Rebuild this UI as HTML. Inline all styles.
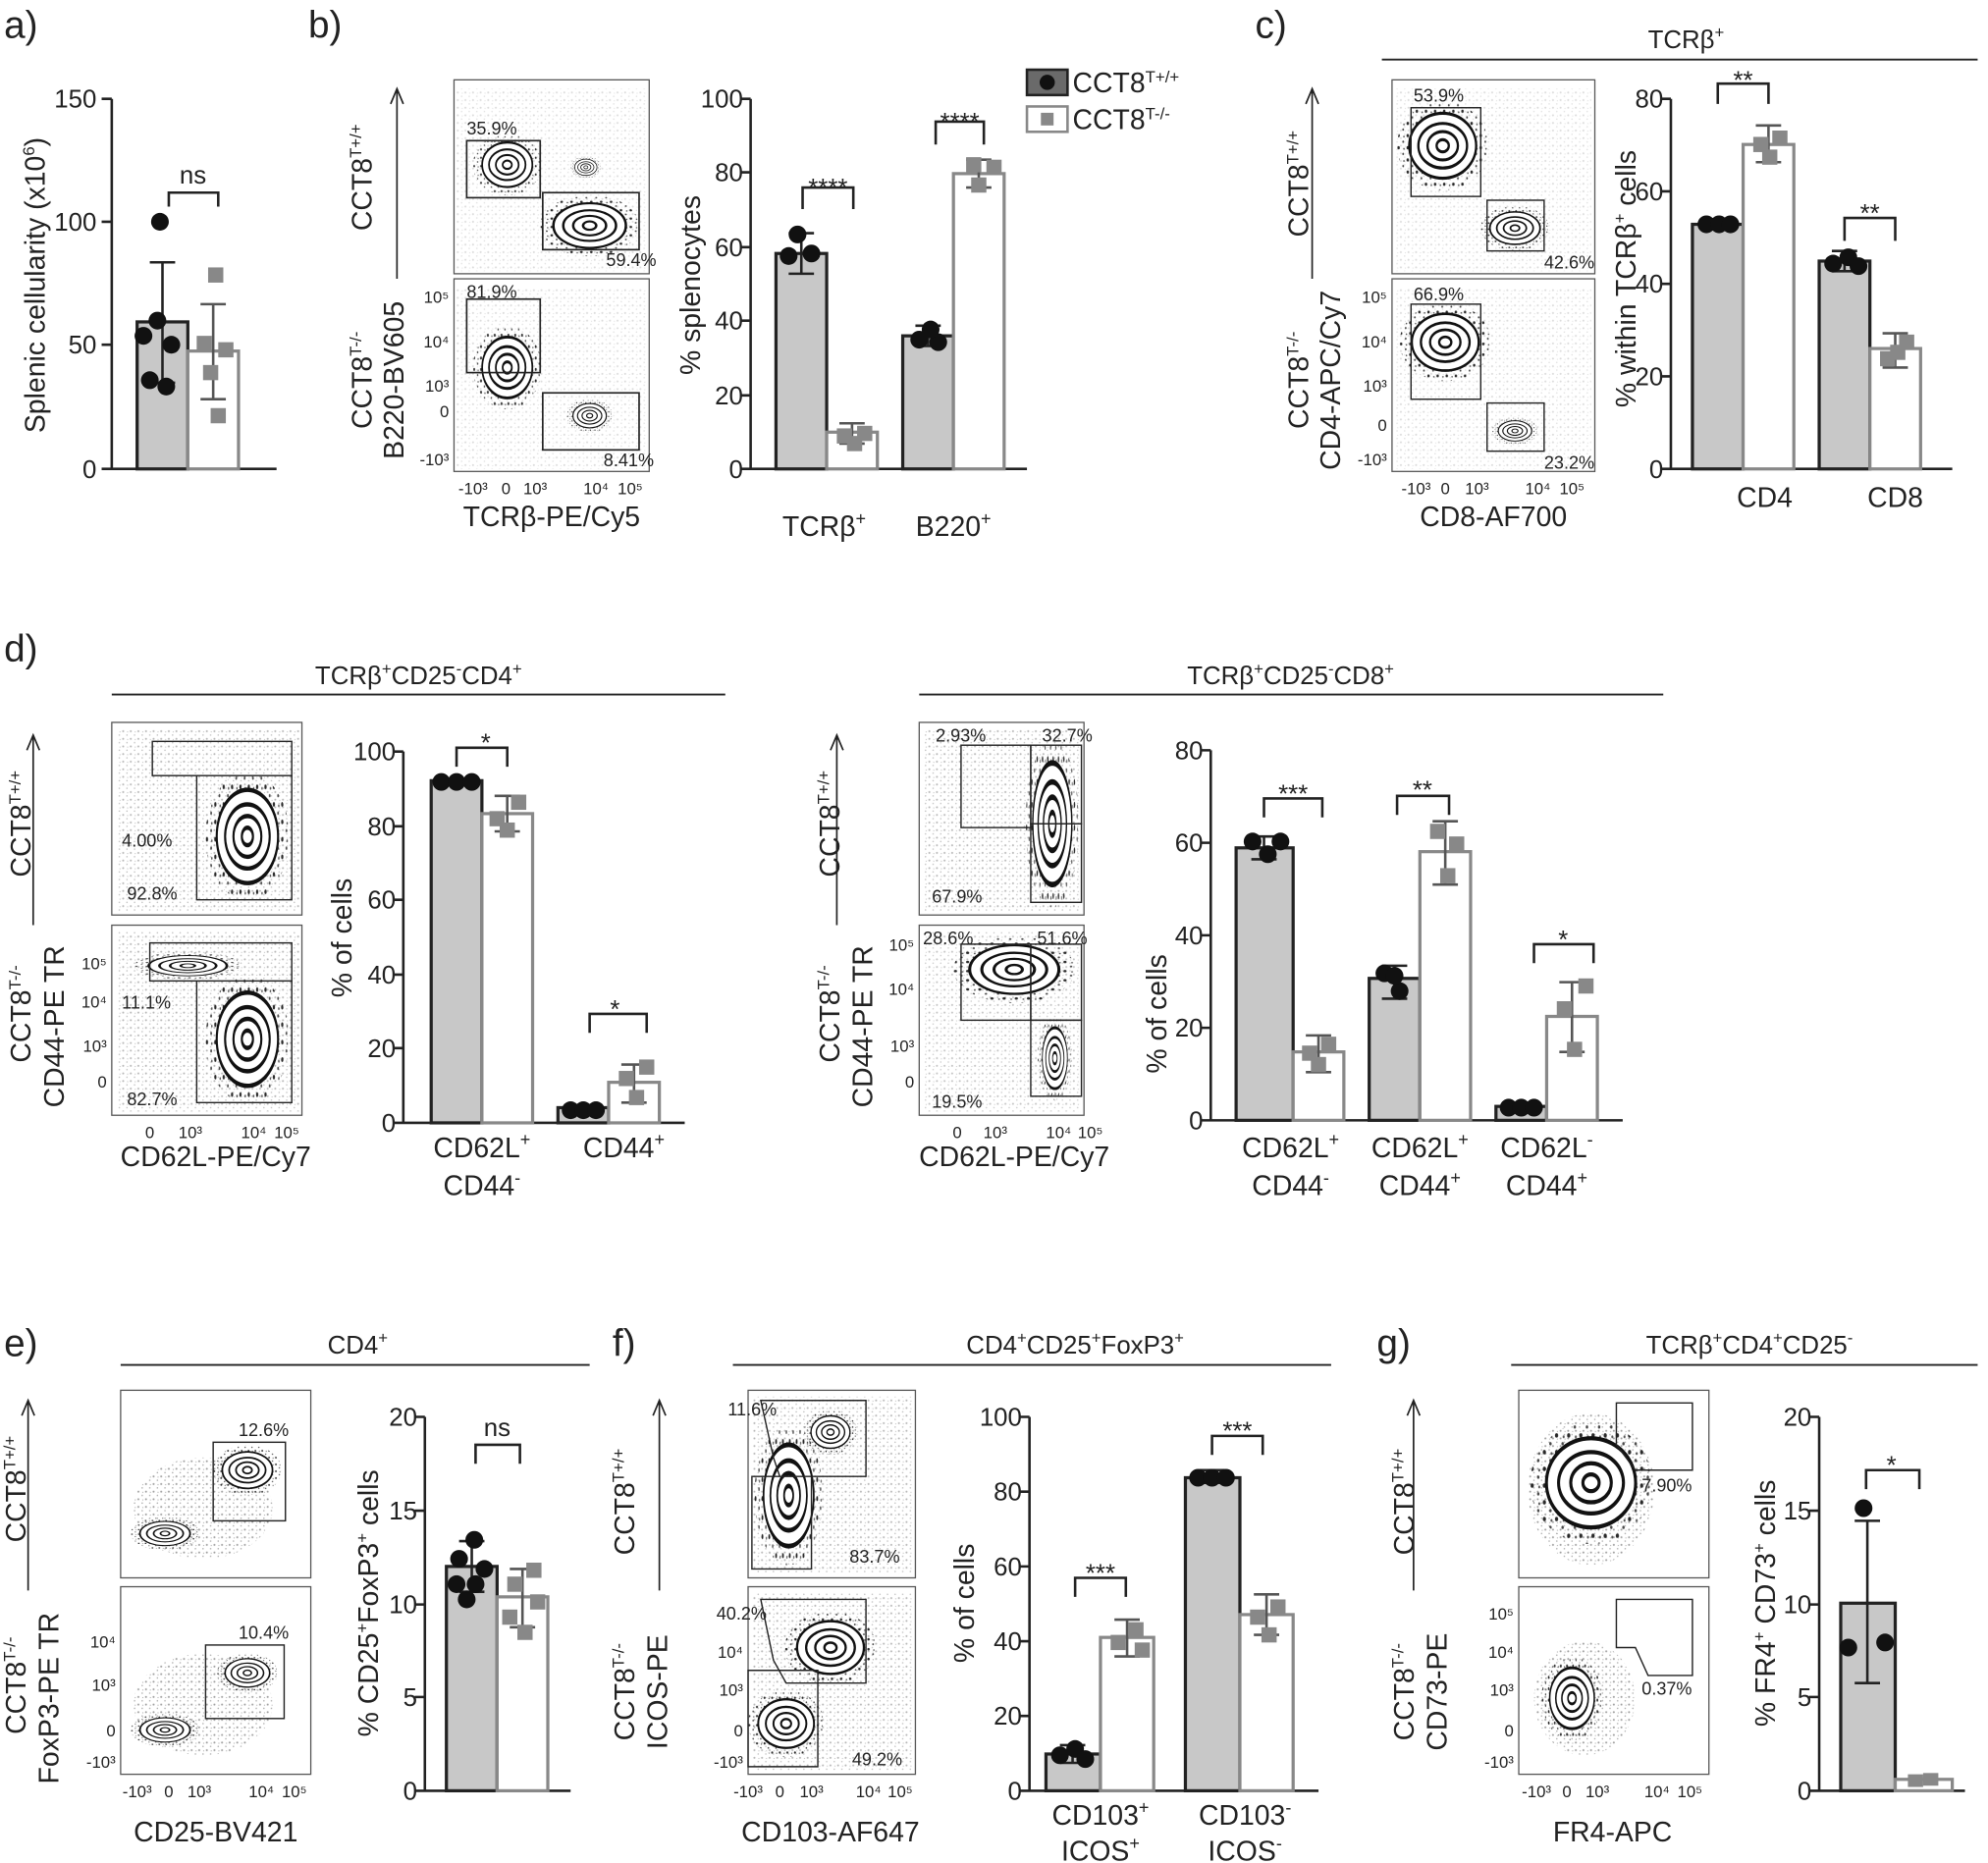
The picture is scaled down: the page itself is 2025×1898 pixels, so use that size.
<!DOCTYPE html>
<html><head><meta charset="utf-8"><style>
html,body{margin:0;padding:0;background:#fff}
svg{display:block}
text{font-family:"Liberation Sans",sans-serif;fill:#222}
.t{font-size:20px}
.l{font-size:22px}
.s{font-size:13px}
.p{font-size:14px}
.h{font-size:30px}
</style></head><body>
<svg width="2025" height="1898" viewBox="0 0 1568 1470" xmlns="http://www.w3.org/2000/svg">
<defs>
<pattern id="dots" width="6" height="6" patternUnits="userSpaceOnUse">
<circle cx="1" cy="1" r="0.8" fill="#111"/><circle cx="4" cy="4" r="0.6" fill="#333"/><circle cx="4.5" cy="1.5" r="0.5" fill="#444"/>
</pattern>
<g id="blob">
<ellipse rx="30" ry="22" fill="url(#dots)" opacity="0.9"/>
<ellipse rx="22" ry="16" fill="#fff" stroke="#111" stroke-width="1.5"/>
<ellipse rx="16" ry="11" fill="none" stroke="#111" stroke-width="1.5"/>
<ellipse rx="10" ry="7" fill="none" stroke="#111" stroke-width="1.5"/>
<ellipse rx="4" ry="3" fill="none" stroke="#111" stroke-width="1.5"/>
</g>
</defs>

<!-- ================= a ================= -->
<text x="3" y="30" class="h">a)</text>
<g stroke="#222" stroke-width="2" fill="none">
<path d="M88 78V370H218M80 78H88M80 175H88M80 272H88M80 370H88"/>
<rect x="108" y="254" width="40" height="116" fill="#c8c8c8" stroke="#222" stroke-width="2.5"/>
<rect x="148" y="277" width="40" height="93" fill="#fff" stroke="#888" stroke-width="2.5"/>
<path d="M128 207V302M118 207H138M118 302H138" />
<path d="M168 240V315M158 240H178M158 315H178" stroke="#555"/>
<path d="M133 163V152H172V163"/>
</g>
<text x="76" y="85" class="t" text-anchor="end">150</text>
<text x="76" y="182" class="t" text-anchor="end">100</text>
<text x="76" y="279" class="t" text-anchor="end">50</text>
<text x="76" y="377" class="t" text-anchor="end">0</text>
<text x="152" y="145" class="t" text-anchor="middle">ns</text>
<text transform="translate(35,225) rotate(-90)" class="l" text-anchor="middle">Splenic cellularity (x10<tspan font-size="13" dy="-8">6</tspan><tspan dy="8">)</tspan></text>
<g fill="#111"><circle cx="126" cy="175" r="7"/><circle cx="124" cy="253" r="7"/><circle cx="113" cy="265" r="7"/><circle cx="135" cy="272" r="7"/><circle cx="118" cy="300" r="7"/><circle cx="131" cy="305" r="7"/></g>
<g fill="#888"><rect x="164" y="211" width="12" height="12"/><rect x="155" y="265" width="12" height="12"/><rect x="172" y="270" width="12" height="12"/><rect x="160" y="288" width="12" height="12"/><rect x="166" y="322" width="12" height="12"/></g>

<!-- ================= b ================= -->
<text x="243" y="30" class="h">b)</text>
<g stroke="#555" stroke-width="1" fill="none"><rect x="358" y="63" width="154" height="153"/><rect x="358" y="220" width="154" height="152"/></g>
<rect x="360" y="70" width="150" height="144" fill="url(#dots)" opacity="0.15"/>
<rect x="360" y="228" width="150" height="142" fill="url(#dots)" opacity="0.15"/>
<use href="#blob" transform="translate(400,130) scale(0.9,1.1)"/>
<use href="#blob" transform="translate(465,178) scale(1.3,1.1)"/>
<use href="#blob" transform="translate(462,132) scale(0.4,0.4)"/>
<use href="#blob" transform="translate(400,290) scale(0.9,1.5)"/>
<use href="#blob" transform="translate(465,328) scale(0.6,0.6)"/>
<g stroke="#222" stroke-width="1.3" fill="none">
<rect x="368" y="111" width="58" height="45"/><rect x="428" y="152" width="76" height="45"/>
<rect x="368" y="236" width="58" height="58"/><rect x="428" y="310" width="76" height="45"/>
</g>
<text x="368" y="106" class="p">35.9%</text><text x="478" y="210" class="p">59.4%</text>
<text x="368" y="235" class="p">81.9%</text><text x="476" y="368" class="p">8.41%</text>
<path d="M313 70V220M308 82L313 70L318 82" stroke="#222" stroke-width="1.3" fill="none"/>
<text transform="translate(293,140) rotate(-90)" class="l" text-anchor="middle">CCT8<tspan font-size="13" dy="-8">T+/+</tspan></text>
<text transform="translate(293,300) rotate(-90)" class="l" text-anchor="middle">CCT8<tspan font-size="13" dy="-8">T-/-</tspan></text>
<text transform="translate(318,300) rotate(-90)" class="l" text-anchor="middle">B220-BV605</text>
<text x="354" y="239" class="s" text-anchor="end">10⁵</text><text x="354" y="274" class="s" text-anchor="end">10⁴</text><text x="354" y="309" class="s" text-anchor="end">10³</text><text x="354" y="329" class="s" text-anchor="end">0</text><text x="354" y="367" class="s" text-anchor="end">-10³</text>
<text x="373" y="390" class="s" text-anchor="middle">-10³</text><text x="399" y="390" class="s" text-anchor="middle">0</text><text x="422" y="390" class="s" text-anchor="middle">10³</text><text x="470" y="390" class="s" text-anchor="middle">10⁴</text><text x="497" y="390" class="s" text-anchor="middle">10⁵</text>
<text x="435" y="415" class="l" text-anchor="middle">TCRβ-PE/Cy5</text>

<g stroke="#222" stroke-width="2" fill="none">
<path d="M592 78V370H810M584 78H592M584 136H592M584 195H592M584 253H592M584 312H592M584 370H592"/>
<rect x="612" y="200" width="40" height="170" fill="#c8c8c8" stroke="#222" stroke-width="2.5"/>
<rect x="652" y="341" width="40" height="29" fill="#fff" stroke="#888" stroke-width="2.5"/>
<rect x="712" y="265" width="40" height="105" fill="#c8c8c8" stroke="#222" stroke-width="2.5"/>
<rect x="752" y="137" width="40" height="233" fill="#fff" stroke="#888" stroke-width="2.5"/>
<path d="M632 184V216M622 184H642M622 216H642"/>
<path d="M672 334V350M662 334H682M662 350H682" stroke="#555"/>
<path d="M732 257V273M722 257H742M722 273H742"/>
<path d="M772 126V148M762 126H782M762 148H782" stroke="#555"/>
<path d="M633 165V148H673V165M738 114V96H776V114"/>
</g>
<text x="586" y="85" class="t" text-anchor="end">100</text><text x="586" y="143" class="t" text-anchor="end">80</text><text x="586" y="202" class="t" text-anchor="end">60</text><text x="586" y="260" class="t" text-anchor="end">40</text><text x="586" y="319" class="t" text-anchor="end">20</text><text x="586" y="377" class="t" text-anchor="end">0</text>
<text x="653" y="155" class="t" text-anchor="middle">****</text><text x="757" y="103" class="t" text-anchor="middle">****</text>
<g fill="#111"><circle cx="629" cy="185" r="7"/><circle cx="622" cy="202" r="7"/><circle cx="640" cy="200" r="7"/><circle cx="725" cy="268" r="7"/><circle cx="740" cy="270" r="7"/><circle cx="734" cy="260" r="7"/></g>
<g fill="#888"><rect x="660" y="338" width="12" height="12"/><rect x="676" y="336" width="12" height="12"/><rect x="668" y="344" width="12" height="12"/><rect x="762" y="124" width="12" height="12"/><rect x="778" y="126" width="12" height="12"/><rect x="766" y="140" width="12" height="12"/></g>
<text x="650" y="423" class="l" text-anchor="middle">TCRβ<tspan font-size="14" dy="-9">+</tspan></text>
<text x="752" y="423" class="l" text-anchor="middle">B220<tspan font-size="14" dy="-9">+</tspan></text>
<text transform="translate(552,225) rotate(-90)" class="l" text-anchor="middle">% splenocytes</text>
<rect x="810" y="55" width="32" height="20" fill="#6a6a6a" stroke="#222" stroke-width="2"/><circle cx="826" cy="65" r="6" fill="#111"/>
<rect x="810" y="84" width="32" height="20" fill="#fff" stroke="#888" stroke-width="2"/><rect x="821" y="89" width="10" height="10" fill="#888"/>
<text x="846" y="73" class="l">CCT8<tspan font-size="13" dy="-8">T+/+</tspan></text>
<text x="846" y="102" class="l">CCT8<tspan font-size="13" dy="-8">T-/-</tspan></text>

<!-- ================= c ================= -->
<text x="990" y="30" class="h">c)</text>
<path d="M1090 47H1560" stroke="#222" stroke-width="1.5"/>
<text x="1330" y="38" class="t" text-anchor="middle">TCRβ<tspan font-size="13" dy="-8">+</tspan></text>
<g stroke="#555" stroke-width="1" fill="none"><rect x="1098" y="63" width="160" height="153"/><rect x="1098" y="220" width="160" height="152"/></g>
<rect x="1100" y="70" width="155" height="144" fill="url(#dots)" opacity="0.15"/>
<rect x="1100" y="228" width="155" height="142" fill="url(#dots)" opacity="0.15"/>
<use href="#blob" transform="translate(1138,115) scale(1.2,1.6)"/>
<use href="#blob" transform="translate(1195,180) scale(0.9,0.8)"/>
<use href="#blob" transform="translate(1140,270) scale(1.2,1.4)"/>
<use href="#blob" transform="translate(1195,340) scale(0.6,0.5)"/>
<g stroke="#222" stroke-width="1.1" fill="none"><rect x="1113" y="85" width="55" height="70"/><rect x="1173" y="158" width="45" height="40"/><rect x="1113" y="240" width="55" height="75"/><rect x="1173" y="318" width="45" height="38"/></g>
<text x="1115" y="80" class="p">53.9%</text><text x="1218" y="212" class="p">42.6%</text>
<text x="1115" y="237" class="p">66.9%</text><text x="1218" y="370" class="p">23.2%</text>
<path d="M1035 70V220M1030 82L1035 70L1040 82" stroke="#222" stroke-width="1.3" fill="none"/>
<text transform="translate(1032,145) rotate(-90)" class="l" text-anchor="middle">CCT8<tspan font-size="13" dy="-8">T+/+</tspan></text>
<text transform="translate(1032,300) rotate(-90)" class="l" text-anchor="middle">CCT8<tspan font-size="13" dy="-8">T-/-</tspan></text>
<text transform="translate(1057,300) rotate(-90)" class="l" text-anchor="middle">CD4-APC/Cy7</text>
<text x="1094" y="239" class="s" text-anchor="end">10⁵</text><text x="1094" y="274" class="s" text-anchor="end">10⁴</text><text x="1094" y="309" class="s" text-anchor="end">10³</text><text x="1094" y="340" class="s" text-anchor="end">0</text><text x="1094" y="367" class="s" text-anchor="end">-10³</text>
<text x="1117" y="390" class="s" text-anchor="middle">-10³</text><text x="1140" y="390" class="s" text-anchor="middle">0</text><text x="1165" y="390" class="s" text-anchor="middle">10³</text><text x="1213" y="390" class="s" text-anchor="middle">10⁴</text><text x="1240" y="390" class="s" text-anchor="middle">10⁵</text>
<text x="1178" y="415" class="l" text-anchor="middle">CD8-AF700</text>
<g stroke="#222" stroke-width="2" fill="none">
<path d="M1318 78V370H1540M1310 78H1318M1310 151H1318M1310 224H1318M1310 297H1318M1310 370H1318"/>
<rect x="1335" y="177" width="40" height="193" fill="#c8c8c8" stroke="#222" stroke-width="2.5"/>
<rect x="1375" y="114" width="40" height="256" fill="#fff" stroke="#888" stroke-width="2.5"/>
<rect x="1435" y="206" width="40" height="164" fill="#c8c8c8" stroke="#222" stroke-width="2.5"/>
<rect x="1475" y="275" width="40" height="95" fill="#fff" stroke="#888" stroke-width="2.5"/>
<path d="M1355 173V181M1345 173H1365M1345 181H1365"/>
<path d="M1395 99V128M1385 99H1405M1385 128H1405" stroke="#555"/>
<path d="M1455 198V214M1445 198H1465M1445 214H1465"/>
<path d="M1495 263V290M1485 263H1505M1485 290H1505" stroke="#555"/>
<path d="M1355 82V66H1395V82M1455 190V172H1495V190"/>
</g>
<text x="1312" y="85" class="t" text-anchor="end">80</text><text x="1312" y="158" class="t" text-anchor="end">60</text><text x="1312" y="231" class="t" text-anchor="end">40</text><text x="1312" y="304" class="t" text-anchor="end">20</text><text x="1312" y="377" class="t" text-anchor="end">0</text>
<text x="1375" y="70" class="t" text-anchor="middle">**</text><text x="1475" y="175" class="t" text-anchor="middle">**</text>
<g fill="#111"><circle cx="1346" cy="177" r="7"/><circle cx="1356" cy="177" r="7"/><circle cx="1365" cy="177" r="7"/><circle cx="1446" cy="208" r="7"/><circle cx="1458" cy="203" r="7"/><circle cx="1466" cy="210" r="7"/></g>
<g fill="#888"><rect x="1383" y="108" width="12" height="12"/><rect x="1398" y="103" width="12" height="12"/><rect x="1390" y="118" width="12" height="12"/><rect x="1483" y="277" width="12" height="12"/><rect x="1498" y="264" width="12" height="12"/><rect x="1491" y="272" width="12" height="12"/></g>
<text x="1392" y="400" class="l" text-anchor="middle">CD4</text><text x="1495" y="400" class="l" text-anchor="middle">CD8</text>
<text transform="translate(1290,220) rotate(-90)" class="l" text-anchor="middle">% within TCRβ<tspan font-size="13" dy="-8">+</tspan><tspan dy="8"> cells</tspan></text>

<!-- ================= d ================= -->
<text x="3" y="522" class="h">d)</text>
<path d="M88 548H572M725 548H1312" stroke="#222" stroke-width="1.5"/>
<text x="330" y="540" class="t" text-anchor="middle">TCRβ<tspan font-size="13" dy="-8">+</tspan><tspan dy="8">CD25</tspan><tspan font-size="13" dy="-8">-</tspan><tspan dy="8">CD4</tspan><tspan font-size="13" dy="-8">+</tspan></text>
<text x="1018" y="540" class="t" text-anchor="middle">TCRβ<tspan font-size="13" dy="-8">+</tspan><tspan dy="8">CD25</tspan><tspan font-size="13" dy="-8">-</tspan><tspan dy="8">CD8</tspan><tspan font-size="13" dy="-8">+</tspan></text>
<g stroke="#555" stroke-width="1" fill="none"><rect x="88" y="570" width="150" height="152"/><rect x="88" y="730" width="150" height="150"/></g>
<rect x="92" y="575" width="144" height="144" fill="url(#dots)" opacity="0.3"/>
<rect x="92" y="735" width="144" height="142" fill="url(#dots)" opacity="0.3"/>
<use href="#blob" transform="translate(195,660) scale(1.1,2.3)"/>
<use href="#blob" transform="translate(195,820) scale(1.1,2.3)"/>
<use href="#blob" transform="translate(148,762) scale(1.4,0.5)"/>
<g stroke="#222" stroke-width="1.1" fill="none"><rect x="120" y="585" width="110" height="27"/><path d="M155 612V710H230V612"/><rect x="118" y="744" width="112" height="30"/><path d="M155 774V870H230V774"/></g>
<text x="96" y="668" class="p">4.00%</text><text x="100" y="710" class="p">92.8%</text>
<text x="96" y="796" class="p">11.1%</text><text x="100" y="872" class="p">82.7%</text>
<path d="M26 580V730M21 592L26 580L31 592" stroke="#222" stroke-width="1.3" fill="none"/>
<text transform="translate(24,650) rotate(-90)" class="l" text-anchor="middle">CCT8<tspan font-size="13" dy="-8">T+/+</tspan></text>
<text transform="translate(24,800) rotate(-90)" class="l" text-anchor="middle">CCT8<tspan font-size="13" dy="-8">T-/-</tspan></text>
<text transform="translate(50,810) rotate(-90)" class="l" text-anchor="middle">CD44-PE TR</text>
<text x="84" y="765" class="s" text-anchor="end">10⁵</text><text x="84" y="795" class="s" text-anchor="end">10⁴</text><text x="84" y="830" class="s" text-anchor="end">10³</text><text x="84" y="858" class="s" text-anchor="end">0</text>
<text x="118" y="898" class="s" text-anchor="middle">0</text><text x="150" y="898" class="s" text-anchor="middle">10³</text><text x="200" y="898" class="s" text-anchor="middle">10⁴</text><text x="226" y="898" class="s" text-anchor="middle">10⁵</text>
<text x="170" y="920" class="l" text-anchor="middle">CD62L-PE/Cy7</text>
<g stroke="#222" stroke-width="2" fill="none">
<path d="M318 593V886H540M310 593H318M310 652H318M310 710H318M310 769H318M310 827H318M310 886H318"/>
<rect x="340" y="616" width="40" height="270" fill="#c8c8c8" stroke="#222" stroke-width="2.5"/>
<rect x="380" y="642" width="40" height="244" fill="#fff" stroke="#888" stroke-width="2.5"/>
<rect x="440" y="874" width="40" height="12" fill="#c8c8c8" stroke="#222" stroke-width="2.5"/>
<rect x="480" y="854" width="40" height="32" fill="#fff" stroke="#888" stroke-width="2.5"/>
<path d="M400 628V656M390 628H410M390 656H410" stroke="#555"/>
<path d="M500 840V870M490 840H510M490 870H510" stroke="#555"/>
<path d="M360 605V590H400V605M465 815V800H510V815"/>
</g>
<text x="312" y="600" class="t" text-anchor="end">100</text><text x="312" y="659" class="t" text-anchor="end">80</text><text x="312" y="717" class="t" text-anchor="end">60</text><text x="312" y="776" class="t" text-anchor="end">40</text><text x="312" y="834" class="t" text-anchor="end">20</text><text x="312" y="893" class="t" text-anchor="end">0</text>
<text x="383" y="593" class="t" text-anchor="middle">*</text><text x="485" y="803" class="t" text-anchor="middle">*</text>
<g fill="#111"><circle cx="348" cy="617" r="7"/><circle cx="360" cy="617" r="7"/><circle cx="372" cy="617" r="7"/><circle cx="450" cy="876" r="7"/><circle cx="460" cy="876" r="7"/><circle cx="470" cy="876" r="7"/></g>
<g fill="#888"><rect x="386" y="640" width="12" height="12"/><rect x="403" y="627" width="12" height="12"/><rect x="394" y="649" width="12" height="12"/><rect x="488" y="845" width="12" height="12"/><rect x="504" y="836" width="12" height="12"/><rect x="496" y="860" width="12" height="12"/></g>
<text x="380" y="913" class="l" text-anchor="middle">CD62L<tspan font-size="14" dy="-9">+</tspan></text>
<text x="380" y="943" class="l" text-anchor="middle">CD44<tspan font-size="14" dy="-9">-</tspan></text>
<text x="492" y="913" class="l" text-anchor="middle">CD44<tspan font-size="14" dy="-9">+</tspan></text>
<text transform="translate(277,740) rotate(-90)" class="l" text-anchor="middle">% of cells</text>

<g stroke="#555" stroke-width="1" fill="none"><rect x="725" y="570" width="130" height="152"/><rect x="725" y="730" width="130" height="150"/></g>
<rect x="728" y="575" width="124" height="144" fill="url(#dots)" opacity="0.3"/>
<rect x="728" y="735" width="124" height="142" fill="url(#dots)" opacity="0.25"/>
<use href="#blob" transform="translate(830,650) scale(0.7,3)"/>
<use href="#blob" transform="translate(800,765) scale(1.6,1.2)"/>
<use href="#blob" transform="translate(832,835) scale(0.45,1.5)"/>
<g stroke="#222" stroke-width="1.1" fill="none"><rect x="758" y="588" width="55" height="65"/><rect x="813" y="588" width="40" height="62"/><rect x="813" y="650" width="40" height="62"/><rect x="758" y="745" width="55" height="60"/><rect x="813" y="745" width="40" height="60"/><rect x="813" y="805" width="40" height="60"/></g>
<text x="738" y="585" class="p">2.93%</text><text x="822" y="585" class="p">32.7%</text><text x="735" y="712" class="p">67.9%</text>
<text x="728" y="745" class="p">28.6%</text><text x="818" y="745" class="p">51.6%</text><text x="735" y="874" class="p">19.5%</text>
<path d="M660 580V730M655 592L660 580L665 592" stroke="#222" stroke-width="1.3" fill="none"/>
<text transform="translate(662,650) rotate(-90)" class="l" text-anchor="middle">CCT8<tspan font-size="13" dy="-8">T+/+</tspan></text>
<text transform="translate(662,800) rotate(-90)" class="l" text-anchor="middle">CCT8<tspan font-size="13" dy="-8">T-/-</tspan></text>
<text transform="translate(688,810) rotate(-90)" class="l" text-anchor="middle">CD44-PE TR</text>
<text x="721" y="750" class="s" text-anchor="end">10⁵</text><text x="721" y="785" class="s" text-anchor="end">10⁴</text><text x="721" y="830" class="s" text-anchor="end">10³</text><text x="721" y="858" class="s" text-anchor="end">0</text>
<text x="755" y="898" class="s" text-anchor="middle">0</text><text x="785" y="898" class="s" text-anchor="middle">10³</text><text x="835" y="898" class="s" text-anchor="middle">10⁴</text><text x="860" y="898" class="s" text-anchor="middle">10⁵</text>
<text x="800" y="920" class="l" text-anchor="middle">CD62L-PE/Cy7</text>
<g stroke="#222" stroke-width="2" fill="none">
<path d="M955 592V884H1280M947 592H955M947 665H955M947 738H955M947 811H955M947 884H955"/>
<rect x="975" y="669" width="45" height="215" fill="#c8c8c8" stroke="#222" stroke-width="2.5"/>
<rect x="1020" y="830" width="40" height="54" fill="#fff" stroke="#888" stroke-width="2.5"/>
<rect x="1080" y="772" width="40" height="112" fill="#c8c8c8" stroke="#222" stroke-width="2.5"/>
<rect x="1120" y="672" width="40" height="212" fill="#fff" stroke="#888" stroke-width="2.5"/>
<rect x="1180" y="873" width="40" height="11" fill="#c8c8c8" stroke="#222" stroke-width="2.5"/>
<rect x="1220" y="802" width="40" height="82" fill="#fff" stroke="#888" stroke-width="2.5"/>
<path d="M997 660V678M987 660H1007M987 678H1007"/>
<path d="M1040 817V846M1030 817H1050M1030 846H1050" stroke="#555"/>
<path d="M1100 762V788M1090 762H1110M1090 788H1110"/>
<path d="M1140 648V698M1130 648H1150M1130 698H1150" stroke="#555"/>
<path d="M1240 775V830M1230 775H1250M1230 830H1250" stroke="#555"/>
<path d="M997 645V630H1043V645M1102 643V628H1143V643M1210 760V745H1257V760"/>
</g>
<text x="949" y="599" class="t" text-anchor="end">80</text><text x="949" y="672" class="t" text-anchor="end">60</text><text x="949" y="745" class="t" text-anchor="end">40</text><text x="949" y="818" class="t" text-anchor="end">20</text><text x="949" y="891" class="t" text-anchor="end">0</text>
<text x="1020" y="633" class="t" text-anchor="middle">***</text><text x="1122" y="630" class="t" text-anchor="middle">**</text><text x="1233" y="748" class="t" text-anchor="middle">*</text>
<g fill="#111"><circle cx="988" cy="664" r="7"/><circle cx="1000" cy="674" r="7"/><circle cx="1010" cy="664" r="7"/><circle cx="1092" cy="768" r="7"/><circle cx="1104" cy="782" r="7"/><circle cx="1100" cy="770" r="7"/><circle cx="1190" cy="874" r="7"/><circle cx="1200" cy="874" r="7"/><circle cx="1210" cy="874" r="7"/></g>
<g fill="#888"><rect x="1027" y="825" width="12" height="12"/><rect x="1042" y="818" width="12" height="12"/><rect x="1034" y="834" width="12" height="12"/><rect x="1128" y="650" width="12" height="12"/><rect x="1143" y="660" width="12" height="12"/><rect x="1136" y="685" width="12" height="12"/><rect x="1228" y="790" width="12" height="12"/><rect x="1245" y="772" width="12" height="12"/><rect x="1236" y="822" width="12" height="12"/></g>
<text x="1018" y="913" class="l" text-anchor="middle">CD62L<tspan font-size="14" dy="-9">+</tspan></text>
<text x="1018" y="943" class="l" text-anchor="middle">CD44<tspan font-size="14" dy="-9">-</tspan></text>
<text x="1120" y="913" class="l" text-anchor="middle">CD62L<tspan font-size="14" dy="-9">+</tspan></text>
<text x="1120" y="943" class="l" text-anchor="middle">CD44<tspan font-size="14" dy="-9">+</tspan></text>
<text x="1220" y="913" class="l" text-anchor="middle">CD62L<tspan font-size="14" dy="-9">-</tspan></text>
<text x="1220" y="943" class="l" text-anchor="middle">CD44<tspan font-size="14" dy="-9">+</tspan></text>
<text transform="translate(920,800) rotate(-90)" class="l" text-anchor="middle">% of cells</text>

<!-- ================= e ================= -->
<text x="3" y="1070" class="h">e)</text>
<path d="M95 1077H465" stroke="#222" stroke-width="1.5"/>
<text x="282" y="1068" class="t" text-anchor="middle">CD4<tspan font-size="13" dy="-8">+</tspan></text>
<g stroke="#555" stroke-width="1" fill="none"><rect x="95" y="1097" width="150" height="148"/><rect x="95" y="1252" width="150" height="148"/></g>
<ellipse cx="160" cy="1190" rx="55" ry="40" fill="url(#dots)" opacity="0.4"/>
<ellipse cx="160" cy="1345" rx="55" ry="40" fill="url(#dots)" opacity="0.4"/>
<use href="#blob" transform="translate(130,1210) scale(0.9,0.6)"/><use href="#blob" transform="translate(195,1160) scale(0.9,0.9)"/>
<use href="#blob" transform="translate(130,1365) scale(0.9,0.6)"/><use href="#blob" transform="translate(195,1320) scale(0.8,0.7)"/>
<g stroke="#222" stroke-width="1.1" fill="none"><rect x="168" y="1138" width="57" height="62"/><rect x="162" y="1298" width="62" height="58"/></g>
<text x="188" y="1133" class="p">12.6%</text><text x="188" y="1293" class="p">10.4%</text>
<path d="M22 1105V1255M17 1117L22 1105L27 1117" stroke="#222" stroke-width="1.3" fill="none"/>
<text transform="translate(20,1175) rotate(-90)" class="l" text-anchor="middle">CCT8<tspan font-size="13" dy="-8">T+/+</tspan></text>
<text transform="translate(20,1330) rotate(-90)" class="l" text-anchor="middle">CCT8<tspan font-size="13" dy="-8">T-/-</tspan></text>
<text transform="translate(46,1340) rotate(-90)" class="l" text-anchor="middle">FoxP3-PE TR</text>
<text x="91" y="1300" class="s" text-anchor="end">10⁴</text><text x="91" y="1334" class="s" text-anchor="end">10³</text><text x="91" y="1370" class="s" text-anchor="end">0</text><text x="91" y="1395" class="s" text-anchor="end">-10³</text>
<text x="108" y="1418" class="s" text-anchor="middle">-10³</text><text x="133" y="1418" class="s" text-anchor="middle">0</text><text x="157" y="1418" class="s" text-anchor="middle">10³</text><text x="206" y="1418" class="s" text-anchor="middle">10⁴</text><text x="232" y="1418" class="s" text-anchor="middle">10⁵</text>
<text x="170" y="1453" class="l" text-anchor="middle">CD25-BV421</text>
<g stroke="#222" stroke-width="2" fill="none">
<path d="M335 1118V1413H450M327 1118H335M327 1192H335M327 1266H335M327 1339H335M327 1413H335"/>
<rect x="352" y="1236" width="40" height="177" fill="#c8c8c8" stroke="#222" stroke-width="2.5"/>
<rect x="392" y="1260" width="40" height="153" fill="#fff" stroke="#888" stroke-width="2.5"/>
<path d="M372 1216V1256M362 1216H382M362 1256H382"/>
<path d="M412 1238V1284M402 1238H422M402 1284H422" stroke="#555"/>
<path d="M375 1155V1140H410V1155"/>
</g>
<text x="329" y="1125" class="t" text-anchor="end">20</text><text x="329" y="1199" class="t" text-anchor="end">15</text><text x="329" y="1273" class="t" text-anchor="end">10</text><text x="329" y="1346" class="t" text-anchor="end">5</text><text x="329" y="1420" class="t" text-anchor="end">0</text>
<text x="392" y="1133" class="t" text-anchor="middle">ns</text>
<g fill="#111"><circle cx="362" cy="1230" r="7"/><circle cx="374" cy="1215" r="7"/><circle cx="382" cy="1238" r="7"/><circle cx="360" cy="1250" r="7"/><circle cx="375" cy="1250" r="7"/><circle cx="368" cy="1262" r="7"/></g>
<g fill="#888"><rect x="400" y="1244" width="12" height="12"/><rect x="415" y="1233" width="12" height="12"/><rect x="418" y="1258" width="12" height="12"/><rect x="396" y="1270" width="12" height="12"/><rect x="408" y="1282" width="12" height="12"/></g>
<text transform="translate(298,1265) rotate(-90)" class="l" text-anchor="middle">% CD25<tspan font-size="13" dy="-8">+</tspan><tspan dy="8">FoxP3</tspan><tspan font-size="13" dy="-8">+</tspan><tspan dy="8"> cells</tspan></text>

<!-- ================= f ================= -->
<text x="483" y="1070" class="h">f)</text>
<path d="M578 1077H1050" stroke="#222" stroke-width="1.5"/>
<text x="848" y="1068" class="t" text-anchor="middle">CD4<tspan font-size="13" dy="-8">+</tspan><tspan dy="8">CD25</tspan><tspan font-size="13" dy="-8">+</tspan><tspan dy="8">FoxP3</tspan><tspan font-size="13" dy="-8">+</tspan></text>
<g stroke="#555" stroke-width="1" fill="none"><rect x="590" y="1097" width="132" height="148"/><rect x="590" y="1252" width="132" height="148"/></g>
<rect x="594" y="1102" width="125" height="140" fill="url(#dots)" opacity="0.3"/>
<rect x="594" y="1257" width="125" height="140" fill="url(#dots)" opacity="0.3"/>
<use href="#blob" transform="translate(622,1180) scale(0.9,2.5)"/><use href="#blob" transform="translate(655,1130) scale(0.7,0.8)"/>
<use href="#blob" transform="translate(620,1360) scale(1,1.2)"/><use href="#blob" transform="translate(655,1300) scale(1.2,1.3)"/>
<g stroke="#222" stroke-width="1.1" fill="none"><path d="M600 1105H683V1165H615L610 1150ZM593 1165H640V1238H593Z"/><path d="M600 1262H683V1328H620L610 1310ZM590 1318H645V1394H590Z"/></g>
<text x="574" y="1117" class="p">11.6%</text><text x="670" y="1233" class="p">83.7%</text>
<text x="565" y="1278" class="p">40.2%</text><text x="672" y="1393" class="p">49.2%</text>
<path d="M520 1105V1255M515 1117L520 1105L525 1117" stroke="#222" stroke-width="1.3" fill="none"/>
<text transform="translate(500,1185) rotate(-90)" class="l" text-anchor="middle">CCT8<tspan font-size="13" dy="-8">T+/+</tspan></text>
<text transform="translate(500,1335) rotate(-90)" class="l" text-anchor="middle">CCT8<tspan font-size="13" dy="-8">T-/-</tspan></text>
<text transform="translate(526,1335) rotate(-90)" class="l" text-anchor="middle">ICOS-PE</text>
<text x="586" y="1278" class="s" text-anchor="end"></text><text x="586" y="1308" class="s" text-anchor="end">10⁴</text><text x="586" y="1338" class="s" text-anchor="end">10³</text><text x="586" y="1370" class="s" text-anchor="end">0</text><text x="586" y="1395" class="s" text-anchor="end">-10³</text>
<text x="590" y="1418" class="s" text-anchor="middle">-10³</text><text x="615" y="1418" class="s" text-anchor="middle">0</text><text x="640" y="1418" class="s" text-anchor="middle">10³</text><text x="685" y="1418" class="s" text-anchor="middle">10⁴</text><text x="710" y="1418" class="s" text-anchor="middle">10⁵</text>
<text x="655" y="1453" class="l" text-anchor="middle">CD103-AF647</text>
<g stroke="#222" stroke-width="2" fill="none">
<path d="M812 1118V1413H1040M804 1118H812M804 1177H812M804 1236H812M804 1295H812M804 1354H812M804 1413H812"/>
<rect x="825" y="1384" width="43" height="29" fill="#c8c8c8" stroke="#222" stroke-width="2.5"/>
<rect x="868" y="1292" width="42" height="121" fill="#fff" stroke="#888" stroke-width="2.5"/>
<rect x="935" y="1166" width="43" height="247" fill="#c8c8c8" stroke="#222" stroke-width="2.5"/>
<rect x="978" y="1274" width="42" height="139" fill="#fff" stroke="#888" stroke-width="2.5"/>
<path d="M846 1377V1391M836 1377H856M836 1391H856"/>
<path d="M889 1278V1307M879 1278H899M879 1307H899" stroke="#555"/>
<path d="M956 1160V1170M946 1160H966M946 1170H966"/>
<path d="M999 1258V1290M989 1258H1009M989 1290H1009" stroke="#555"/>
<path d="M848 1260V1245H888V1260M956 1148V1133H996V1148"/>
</g>
<text x="806" y="1125" class="t" text-anchor="end">100</text><text x="806" y="1184" class="t" text-anchor="end">80</text><text x="806" y="1243" class="t" text-anchor="end">60</text><text x="806" y="1302" class="t" text-anchor="end">40</text><text x="806" y="1361" class="t" text-anchor="end">20</text><text x="806" y="1420" class="t" text-anchor="end">0</text>
<text x="868" y="1248" class="t" text-anchor="middle">***</text><text x="976" y="1136" class="t" text-anchor="middle">***</text>
<g fill="#111"><circle cx="836" cy="1385" r="7"/><circle cx="848" cy="1380" r="7"/><circle cx="856" cy="1388" r="7"/><circle cx="945" cy="1166" r="7"/><circle cx="956" cy="1166" r="7"/><circle cx="967" cy="1166" r="7"/></g>
<g fill="#888"><rect x="876" y="1290" width="12" height="12"/><rect x="890" y="1280" width="12" height="12"/><rect x="895" y="1296" width="12" height="12"/><rect x="986" y="1270" width="12" height="12"/><rect x="1002" y="1262" width="12" height="12"/><rect x="995" y="1284" width="12" height="12"/></g>
<text x="868" y="1440" class="l" text-anchor="middle">CD103<tspan font-size="14" dy="-9">+</tspan></text>
<text x="868" y="1468" class="l" text-anchor="middle">ICOS<tspan font-size="14" dy="-9">+</tspan></text>
<text x="982" y="1440" class="l" text-anchor="middle">CD103<tspan font-size="14" dy="-9">-</tspan></text>
<text x="982" y="1468" class="l" text-anchor="middle">ICOS<tspan font-size="14" dy="-9">-</tspan></text>
<text transform="translate(768,1265) rotate(-90)" class="l" text-anchor="middle">% of cells</text>

<!-- ================= g ================= -->
<text x="1086" y="1070" class="h">g)</text>
<path d="M1192 1077H1560" stroke="#222" stroke-width="1.5"/>
<text x="1380" y="1068" class="t" text-anchor="middle">TCRβ<tspan font-size="13" dy="-8">+</tspan><tspan dy="8">CD4</tspan><tspan font-size="13" dy="-8">+</tspan><tspan dy="8">CD25</tspan><tspan font-size="13" dy="-8">-</tspan></text>
<g stroke="#555" stroke-width="1" fill="none"><rect x="1198" y="1097" width="150" height="148"/><rect x="1198" y="1252" width="150" height="148"/></g>
<ellipse cx="1255" cy="1175" rx="50" ry="60" fill="url(#dots)" opacity="0.4"/>
<ellipse cx="1250" cy="1340" rx="40" ry="45" fill="url(#dots)" opacity="0.4"/>
<use href="#blob" transform="translate(1255,1170) scale(1.6,2.2)"/>
<use href="#blob" transform="translate(1240,1340) scale(0.8,1.5)"/>
<g stroke="#222" stroke-width="1.1" fill="none"><path d="M1275 1107H1335V1160H1290L1275 1140Z"/><path d="M1275 1262H1335V1322H1300L1290 1300L1275 1300Z"/></g>
<text x="1295" y="1177" class="p">7.90%</text><text x="1295" y="1337" class="p">0.37%</text>
<path d="M1115 1105V1255M1110 1117L1115 1105L1120 1117" stroke="#222" stroke-width="1.3" fill="none"/>
<text transform="translate(1115,1185) rotate(-90)" class="l" text-anchor="middle">CCT8<tspan font-size="13" dy="-8">T+/+</tspan></text>
<text transform="translate(1115,1335) rotate(-90)" class="l" text-anchor="middle">CCT8<tspan font-size="13" dy="-8">T-/-</tspan></text>
<text transform="translate(1141,1335) rotate(-90)" class="l" text-anchor="middle">CD73-PE</text>
<text x="1194" y="1278" class="s" text-anchor="end">10⁵</text><text x="1194" y="1308" class="s" text-anchor="end">10⁴</text><text x="1194" y="1338" class="s" text-anchor="end">10³</text><text x="1194" y="1370" class="s" text-anchor="end">0</text><text x="1194" y="1395" class="s" text-anchor="end">-10³</text>
<text x="1212" y="1418" class="s" text-anchor="middle">-10³</text><text x="1236" y="1418" class="s" text-anchor="middle">0</text><text x="1260" y="1418" class="s" text-anchor="middle">10³</text><text x="1307" y="1418" class="s" text-anchor="middle">10⁴</text><text x="1333" y="1418" class="s" text-anchor="middle">10⁵</text>
<text x="1272" y="1453" class="l" text-anchor="middle">FR4-APC</text>
<g stroke="#222" stroke-width="2" fill="none">
<path d="M1435 1118V1413H1550M1427 1118H1435M1427 1192H1435M1427 1266H1435M1427 1339H1435M1427 1413H1435"/>
<rect x="1452" y="1265" width="43" height="148" fill="#c8c8c8" stroke="#222" stroke-width="2.5"/>
<rect x="1495" y="1404" width="45" height="9" fill="#fff" stroke="#888" stroke-width="2.5"/>
<path d="M1473 1200V1328M1463 1200H1483M1463 1328H1483"/>
<path d="M1472 1175V1160H1514V1175"/>
</g>
<text x="1429" y="1125" class="t" text-anchor="end">20</text><text x="1429" y="1199" class="t" text-anchor="end">15</text><text x="1429" y="1273" class="t" text-anchor="end">10</text><text x="1429" y="1346" class="t" text-anchor="end">5</text><text x="1429" y="1420" class="t" text-anchor="end">0</text>
<text x="1492" y="1163" class="t" text-anchor="middle">*</text>
<g fill="#111"><circle cx="1470" cy="1190" r="7"/><circle cx="1458" cy="1300" r="7"/><circle cx="1487" cy="1296" r="7"/></g>
<g fill="#888"><rect x="1505" y="1400" width="12" height="10"/><rect x="1517" y="1399" width="12" height="10"/></g>
<text transform="translate(1400,1265) rotate(-90)" class="l" text-anchor="middle">% FR4<tspan font-size="13" dy="-8">+</tspan><tspan dy="8"> CD73</tspan><tspan font-size="13" dy="-8">+</tspan><tspan dy="8"> cells</tspan></text>
</svg>
</body></html>
